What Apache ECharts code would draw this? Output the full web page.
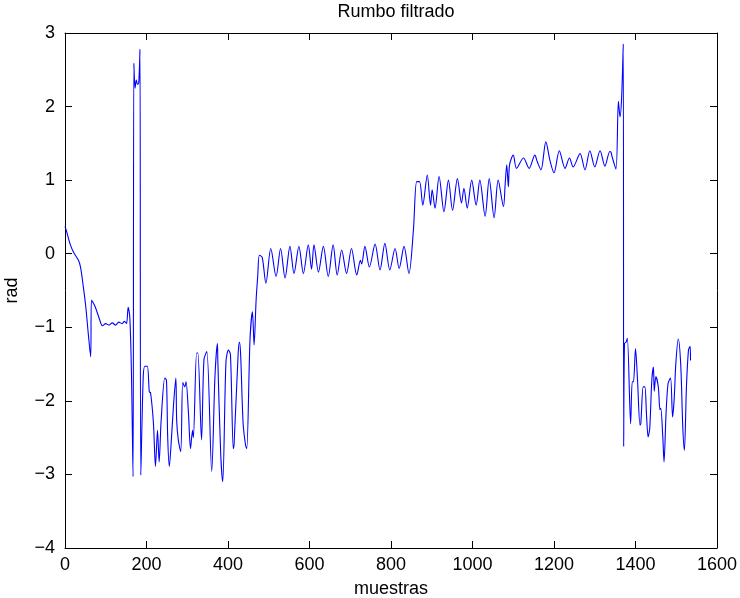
<!DOCTYPE html>
<html>
<head>
<meta charset="utf-8">
<script src="https://cdn.jsdelivr.net/npm/echarts@6/dist/echarts.min.js"></script>
<style>html,body{margin:0;padding:0;background:#fff}#c{width:740px;height:598px}</style>
</head>
<body>
<div id="c"></div>
<script>
const chartTitle = 'Rumbo filtrado';
const xName = 'muestras';
const yName = 'rad';
const xTicks = [0, 200, 400, 600, 800, 1000, 1200, 1400, 1600];
const yTicks = [-4, -3, -2, -1, 0, 1, 2, 3];

// sample index (muestras)
const muestras = [
  0,4,12,20,33,38,45,51,57,63,65,74,84,92,100,108,116,124,132,140,146,151,155,159,163,167,
  169,172,175,178,181,184,186,
  192,196,202,207,210,217,222,227,231,236,245,249,252,256,260,266,272,274,278,284,289,294,297,303,308,313,315,
  323,326,335,341,348,360,368,374,375,382,387,395,401,406,413,415,425,428,431,437,443,446,454,460,464,469,473,477,484,
  493,505,518,529,540,552,562,574,585,597,605,611,622,634,646,658,668,679,691,703,716,725,728,736,747,761,773,785,797,810,820,832,844,
  855,863,870,878,889,897,901,908,918,930,941,951,963,973,979,987,998,1009,1018,1031,1041,1053,1063,1076,1080,1084,1088,1091,
  1100,1108,1125,1139,1153,1159,1168,1180,1190,1200,1213,1227,1238,1247,1264,1276,1288,1300,1313,1325,1337,1340,1342,1352,1358,1362,1366,1370,
  1371,1373,1377,1380,1388,1392,1395,1400,1405,1411,1413,1419,1423,1427,1431,1435,1440,1444,1446,1450,1456,1460,1462,1467,1470,1475,1480,1486,1491,1495,1499,1505,1511,1516,1520,1525,1530,1534,1535
];
// filtered heading (rad)
const rumbo = [
  0.37,0.30,0.14,0.03,-0.09,-0.18,-0.45,-0.72,-1.08,-1.40,-0.63,-0.72,-0.88,-0.98,-0.95,-0.97,-0.94,-0.97,-0.93,-0.95,-0.92,-0.95,-0.73,-0.86,-1.60,-3.03,
  2.59,2.25,2.36,2.30,2.32,2.78,-3.01,
  -1.67,-1.53,-1.53,-1.88,-1.89,-2.30,-2.89,-2.40,-2.83,-2.26,-1.69,-1.72,-2.49,-2.89,-2.62,-2.08,-1.69,-2.26,-2.53,-2.69,-1.75,-1.81,-1.74,-2.17,-2.65,-2.40,-2.50,
  -1.35,-1.35,-2.53,-1.44,-1.33,-2.96,-1.67,-1.22,-1.44,-2.71,-3.10,-1.47,-1.31,-1.37,-2.65,-2.58,-1.35,-1.20,-1.37,-2.30,-2.60,-2.65,-1.17,-0.79,-1.24,-0.63,-0.30,-0.02,-0.05,
  -0.40,0.07,-0.31,0.07,-0.33,0.10,-0.27,0.10,-0.27,0.12,-0.21,0.12,-0.25,0.10,-0.31,0.12,-0.29,0.05,-0.27,0.07,-0.29,-0.09,-0.14,0.10,-0.18,0.13,-0.22,0.14,-0.22,0.07,-0.20,0.10,-0.27,
  0.32,0.98,0.98,0.66,1.07,0.66,0.87,0.62,1.05,0.57,1.00,0.59,1.02,0.69,0.89,0.62,1.00,0.66,1.00,0.51,1.02,0.49,1.00,0.64,0.93,1.21,0.91,1.21,
  1.34,1.16,1.30,1.16,1.34,1.25,1.14,1.52,1.27,1.10,1.40,1.16,1.30,1.18,1.36,1.14,1.40,1.18,1.40,1.19,1.39,1.38,1.33,1.15,2.07,1.86,2.13,2.85,
  -2.62,-1.22,-1.20,-1.15,-2.31,-1.74,-1.74,-1.29,-1.72,-2.33,-2.31,-1.81,-1.81,-2.19,-2.49,-2.37,-1.72,-1.54,-1.87,-1.67,-1.81,-2.12,-2.10,-2.49,-2.83,-2.17,-1.76,-1.69,-2.22,-1.97,-1.49,-1.16,-1.51,-2.35,-2.67,-1.81,-1.31,-1.26,-1.45
];

const FONT = 'Liberation Sans';
const FS = 18;
const chart = echarts.init(document.getElementById('c'), null, {renderer: 'canvas'});
const minusFmt = v => String(v).replace('-', '\u2212');
const data = muestras.map((x, i) => [x, rumbo[i]]);

chart.setOption({
  animation: false,
  backgroundColor: '#ffffff',
  title: {
    text: chartTitle, left: 391, top: -2, textAlign: 'center',
    textStyle: {fontFamily: FONT, fontSize: FS, fontWeight: 'normal', color: '#000'}
  },
  grid: {left: 65, right: 23, top: 33, bottom: 50, containLabel: false, outerBoundsMode: 'none'},
  xAxis: [{
    type: 'value', min: xTicks[0], max: xTicks[xTicks.length - 1], interval: 200,
    name: xName, nameLocation: 'middle', nameGap: 32,
    nameTextStyle: {fontFamily: FONT, fontSize: FS, color: '#000'},
    axisLine: {onZero: false, lineStyle: {color: '#000', width: 1}},
    axisTick: {inside: true, length: 7, lineStyle: {color: '#000'}},
    axisLabel: {fontFamily: FONT, fontSize: FS, color: '#000', margin: 8, formatter: minusFmt},
    splitLine: {show: false}
  }, {
    type: 'value', position: 'top', min: xTicks[0], max: xTicks[xTicks.length - 1], interval: 200,
    axisLine: {onZero: false, lineStyle: {color: '#000', width: 1}},
    axisTick: {inside: true, length: 7, lineStyle: {color: '#000'}},
    axisLabel: {show: false}, splitLine: {show: false}
  }],
  yAxis: [{
    type: 'value', min: yTicks[0], max: yTicks[yTicks.length - 1], interval: 1,
    name: yName, nameLocation: 'middle', nameGap: 44, nameRotate: 90,
    nameTextStyle: {fontFamily: FONT, fontSize: FS, color: '#000'},
    axisLine: {show: true, onZero: false, lineStyle: {color: '#000', width: 1}},
    axisTick: {show: true, inside: true, length: 7, lineStyle: {color: '#000'}},
    axisLabel: {fontFamily: FONT, fontSize: FS, color: '#000', margin: 10, formatter: minusFmt},
    splitLine: {show: false}
  }, {
    type: 'value', position: 'right', min: yTicks[0], max: yTicks[yTicks.length - 1], interval: 1,
    axisLine: {show: true, onZero: false, lineStyle: {color: '#000', width: 1}},
    axisTick: {show: true, inside: true, length: 7, lineStyle: {color: '#000'}},
    axisLabel: {show: false}, splitLine: {show: false}
  }],
  series: [{
    type: 'line', xAxisIndex: 0, yAxisIndex: 0, data: data,
    showSymbol: false, smooth: 0.3,
    lineStyle: {color: '#0000ff', width: 1.1},
    itemStyle: {color: '#0000ff'}
  }]
});
</script>
</body>
</html>
